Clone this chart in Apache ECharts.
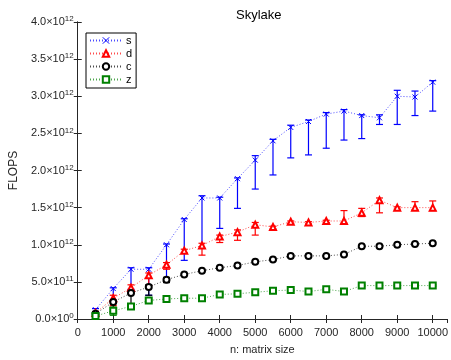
<!DOCTYPE html>
<html><head><meta charset="utf-8">
<script src="https://cdn.jsdelivr.net/npm/echarts@6/dist/echarts.min.js"></script>
<style>html,body{margin:0;padding:0;background:#fff}#c{width:451px;height:360px}</style>
</head><body><div id="c"></div>
<script>
const sizes = [500,1000,1500,2000,2500,3000,3500,4000,4500,5000,5500,6000,6500,7000,7500,8000,8500,9000,9500,10000];
// values in units of 1e12 FLOPS
const sVal = [0.125,0.41,0.67,0.67,1.00,1.34,1.63,1.63,1.89,2.14,2.40,2.58,2.66,2.76,2.80,2.74,2.71,3.00,2.99,3.19];
const sHi  = [0.14,0.42,0.69,0.69,1.01,1.35,1.66,1.64,1.90,2.20,2.42,2.61,2.68,2.78,2.82,2.75,2.75,3.08,3.07,3.21];
const sLo  = [0.08,0.25,0.40,0.32,0.53,0.79,0.95,1.22,1.49,1.75,1.94,2.17,2.21,2.30,2.41,2.43,2.62,2.62,2.74,2.80];
const dVal = [0.08,0.28,0.42,0.59,0.73,0.92,0.99,1.11,1.17,1.27,1.24,1.31,1.30,1.32,1.32,1.43,1.60,1.50,1.50,1.50];
const dHi  = [0.10,0.32,0.46,0.62,0.76,0.94,1.02,1.13,1.20,1.30,1.25,1.32,1.31,1.33,1.46,1.49,1.63,1.51,1.58,1.59];
const dLo  = [0.05,0.18,0.35,0.45,0.67,0.89,0.86,1.03,1.06,1.13,1.21,1.29,1.28,1.30,1.29,1.38,1.43,1.48,1.47,1.46];
const cVal = [0.07,0.23,0.35,0.43,0.53,0.60,0.65,0.69,0.72,0.77,0.80,0.85,0.85,0.85,0.87,0.98,0.98,1.00,1.01,1.02];
const cHi  = [0.09,0.25,0.38,0.46,0.56,0.61,0.66,0.70,0.73,0.78,0.81,0.86,0.86,0.86,0.88,0.99,0.99,1.01,1.02,1.03];
const cLo  = [0.04,0.10,0.20,0.32,0.49,0.59,0.64,0.68,0.71,0.76,0.79,0.84,0.84,0.84,0.86,0.97,0.97,0.99,1.00,1.01];
const zVal = [0.04,0.11,0.17,0.25,0.27,0.28,0.28,0.33,0.34,0.36,0.38,0.39,0.37,0.40,0.37,0.45,0.45,0.45,0.45,0.45];
const zHi  = [0.05,0.16,0.20,0.26,0.28,0.29,0.29,0.34,0.35,0.37,0.39,0.40,0.38,0.41,0.38,0.46,0.46,0.46,0.46,0.46];
const zLo  = [0.02,0.05,0.13,0.24,0.26,0.27,0.27,0.32,0.33,0.35,0.37,0.38,0.36,0.39,0.36,0.44,0.44,0.44,0.44,0.44];
const seriesNames = ['s','d','c','z'];
const SCALE = 1e12;

const FONT = 'Liberation Sans';
const colors = {s:'#0000ff', d:'#ff0000', c:'#000000', z:'#008000'};
const lineColors = {s:'rgba(0,0,255,0.7)', d:'rgba(255,0,0,0.7)', c:'rgba(0,0,0,0.7)', z:'rgba(0,128,0,0.7)'};
const symbols = {s:'path://M0,0L10,10M10,0L0,10', d:'emptyTriangle', c:'emptyCircle', z:'emptyRect'};
const data = {
  s:[sVal,sLo,sHi], d:[dVal,dLo,dHi], c:[cVal,cLo,cHi], z:[zVal,zLo,zHi]
};

function errRender(color){
  return function(params, api){
    const x = api.value(0), lo = api.value(1), hi = api.value(2);
    const pLo = api.coord([x, lo]), pHi = api.coord([x, hi]);
    const hw = 3.5;
    const style = {stroke: color, lineWidth: 1.2, fill: null};
    return {type:'group', children:[
      {type:'line', shape:{x1:pLo[0], y1:pLo[1], x2:pHi[0], y2:pHi[1]}, style},
      {type:'line', shape:{x1:pLo[0]-hw, y1:pLo[1], x2:pLo[0]+hw, y2:pLo[1]}, style},
      {type:'line', shape:{x1:pHi[0]-hw, y1:pHi[1], x2:pHi[0]+hw, y2:pHi[1]}, style}
    ]};
  };
}

const series = [];
seriesNames.forEach(n => {
  const [v, lo, hi] = data[n];
  series.push({
    name: n, type: 'line', z: 3,
    data: sizes.map((x,i)=>[x, v[i]*SCALE]),
    symbol: symbols[n], symbolSize: n==='s'?5:6,
    showAllSymbol: true,
    lineStyle: {type:[1,2], width:1, color: lineColors[n]},
    itemStyle: {color: colors[n], borderColor: colors[n], borderWidth: 1},
    emphasis: {disabled: true},
    animation: false
  });
  series.push({
    name: n+'_err', type: 'custom', z: 2,
    data: sizes.map((x,i)=>[x, lo[i]*SCALE, hi[i]*SCALE]),
    renderItem: errRender(colors[n]),
    encode: {x:0, y:[1,2]},
    animation: false
  });
});

function yFmt(v){
  if (v === 0) return '{m|0.0×10}{e|0}';
  const e = Math.floor(Math.log10(v) + 1e-9);
  const m = v / Math.pow(10, e);
  return '{m|' + m.toFixed(1) + '×10}{e|' + e + '}';
}

const axisLineStyle = {color:'#262626', width:1};
const chart = echarts.init(document.getElementById('c'), null, {renderer:'canvas'});
chart.setOption({
  animation: false,
  backgroundColor: '#ffffff',
  title: {text:'Skylake', left: 231, top: 4,
    textStyle:{fontFamily:FONT, fontSize:13, fontWeight:'normal', color:'#000'}},
  grid: {left:77, right:2, top:22, bottom:34, containLabel:false},
  legend: {
    data: seriesNames, orient:'vertical', left: 86, top: 33,
    backgroundColor:'#fff', borderColor:'#000', borderWidth:1,
    padding:[2,4,3,3], itemGap: 2, itemWidth: 32, itemHeight: 8,
    itemStyle:{borderWidth:1},
    textStyle:{fontFamily:FONT, fontSize:11, color:'#000', padding:[0,0,0,-1]},
    selectedMode:false
  },
  xAxis: [{
    type:'value', min:0, max:10400, interval:1000,
    name:'n: matrix size', nameLocation:'middle', nameGap:25,
    nameTextStyle:{fontFamily:FONT, fontSize:11, color:'#262626'},
    axisLine:{show:true, lineStyle:axisLineStyle},
    axisTick:{show:true, inside:true, length:4, lineStyle:axisLineStyle},
    axisLabel:{fontFamily:FONT, fontSize:11, color:'#262626', margin:8, showMaxLabel:false,
      formatter: v => String(v)},
    splitLine:{show:false}
  },{
    type:'value', min:0, max:10400, interval:1000, position:'top',
    axisLine:{show:true, lineStyle:axisLineStyle},
    axisTick:{show:true, inside:true, length:4, lineStyle:axisLineStyle},
    axisLabel:{show:false}, splitLine:{show:false}
  }],
  yAxis: [{
    type:'value', min:0, max:4e12, interval:5e11,
    name:'FLOPS', nameLocation:'middle', nameGap:50,
    nameTextStyle:{fontFamily:FONT, fontSize:12, color:'#262626'},
    axisLine:{show:true, lineStyle:axisLineStyle},
    axisTick:{show:true, inside:true, length:4, lineStyle:axisLineStyle},
    axisLabel:{formatter:yFmt, margin:4, color:'#262626',
      rich:{m:{fontFamily:FONT, fontSize:11, color:'#262626'},
            e:{fontFamily:FONT, fontSize:8, color:'#262626', verticalAlign:'top', padding:[0,0,6,0]}}},
    splitLine:{show:false}
  },{
    type:'value', min:0, max:4e12, interval:5e11, position:'right',
    axisLine:{show:true, lineStyle:axisLineStyle},
    axisTick:{show:true, inside:true, length:4, lineStyle:axisLineStyle},
    axisLabel:{show:false}, splitLine:{show:false}
  }],
  series: series
});
</script></body></html>
